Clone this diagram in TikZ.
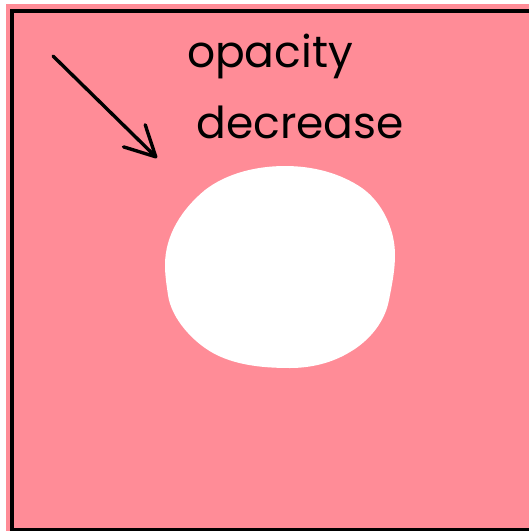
\documentclass[tikz,border=0pt]{standalone}
\usepackage{fontspec}
\setmainfont{Poppins}
\usetikzlibrary{arrows.meta}
\definecolor{bgpink}{RGB}{255,140,151}
\tikzset{
  hand/.style={font=\fontsize{44}{48}\selectfont, anchor=base, inner sep=0pt, text=black},
  pointer/.style={line width=3.4pt, line cap=round, -{Straight Barb[length=30pt,width=31pt,line cap=round,line join=round]}},
}
\begin{document}
\begin{tikzpicture}[x=1pt,y=-1pt]
\useasboundingbox (0,0) rectangle (529,531);
\fill[bgpink] (6,4) rectangle (529,531);
\draw[line width=3.6pt, line join=miter] (529,11) -- (12,11) -- (12,529.5) -- (529,529.5);
% white blob
\fill[white] (165,265)
  .. controls (165,235) and (182,209) .. (205,190)
  .. controls (227,173) and (257,166) .. (285,166)
  .. controls (313,166) and (340,173) .. (362,188)
  .. controls (383,203) and (395,230) .. (395,255)
  .. controls (395,270) and (392,285) .. (389,300)
  .. controls (385,322) and (369,341) .. (350,352)
  .. controls (332,363) and (311,368) .. (290,368)
  .. controls (261,368) and (229,365) .. (205,348)
  .. controls (188,336) and (171,316) .. (168,295)
  .. controls (166.5,285) and (165,275) .. (165,265) -- cycle;
% text
\node[hand] (t1) at (270,67) {opacity};
\node[hand] (t2) at (300,138) {decrease};
% arrow
\coordinate (a1) at (53,56);
\coordinate (a2) at (157,158);
\draw[pointer] (a1) -- (a2);
\end{tikzpicture}
\end{document}
